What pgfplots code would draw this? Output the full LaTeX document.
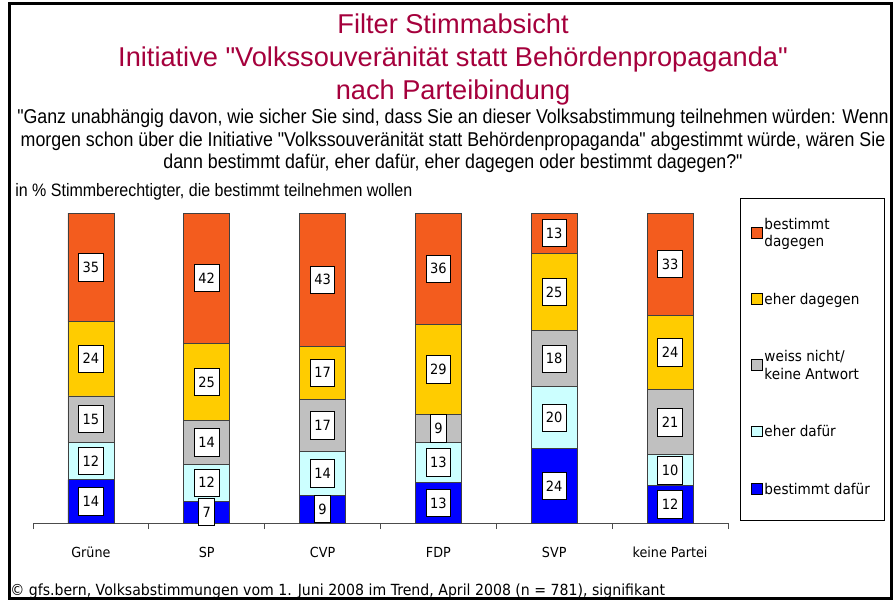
\documentclass[border=0pt]{standalone}
\usepackage{fontspec}
\setmainfont{DejaVu Sans}[FakeStretch=0.92]
\newfontfamily\titlefont{Liberation Sans}
\newfontfamily\qfont{Liberation Sans}[FakeStretch=0.89]
\usepackage{pgfplots}
\pgfplotsset{compat=1.18}
\definecolor{tcol}{RGB}{165,0,60}
\definecolor{cBlue}{RGB}{0,0,255}
\definecolor{cCyan}{RGB}{204,255,255}
\definecolor{cGrey}{RGB}{192,192,192}
\definecolor{cGold}{RGB}{255,204,0}
\definecolor{cOrange}{RGB}{243,92,30}
\begin{document}
\begin{tikzpicture}
\useasboundingbox (0pt,0pt) rectangle (669.75pt,-450.75pt);
\draw[line width=2.25pt] (6.75pt,-2.25pt) rectangle (668.25pt,-448.5pt);
% titles
\node[anchor=base,inner sep=0pt,text=tcol,font=\titlefont\fontsize{20.4}{24}\selectfont] at (339.75pt,-24.75pt) {Filter Stimmabsicht};
\node[anchor=base,inner sep=0pt,text=tcol,font=\titlefont\fontsize{20.4}{24}\selectfont] at (339.75pt,-49.5pt) {Initiative "Volkssouveränität statt Behördenpropaganda"};
\node[anchor=base,inner sep=0pt,text=tcol,font=\titlefont\fontsize{20.4}{24}\selectfont] at (339.75pt,-74.25pt) {nach Parteibindung};
\node[anchor=base,inner sep=0pt,font=\qfont\fontsize{15}{18}\selectfont] at (339.75pt,-92.25pt) {"Ganz unabhängig davon, wie sicher Sie sind, dass Sie an dieser Volksabstimmung teilnehmen würden: Wenn};
\node[anchor=base,inner sep=0pt,font=\qfont\fontsize{15}{18}\selectfont] at (339.75pt,-109.5pt) {morgen schon über die Initiative "Volkssouveränität statt Behördenpropaganda" abgestimmt würde, wären Sie};
\node[anchor=base,inner sep=0pt,font=\qfont\fontsize{15}{18}\selectfont] at (339.75pt,-126.25pt) {dann bestimmt dafür, eher dafür, eher dagegen oder bestimmt dagegen?"};
\node[anchor=base west,inner sep=0pt,font=\qfont\fontsize{13.5}{16}\selectfont] at (11.25pt,-147.5pt) {in \% Stimmberechtigter, die bestimmt teilnehmen wollen};
\node[anchor=west,inner sep=0pt,font=\fontsize{11.5}{13}\selectfont] at (7.5pt,-443.25pt) {© gfs.bern, Volksabstimmungen vom 1. Juni 2008 im Trend, April 2008 (n = 781), signifikant};
% legend frame
\draw[line width=0.75pt] (555pt,-148.5pt) rectangle (663pt,-390pt);
\begin{axis}[
  at={(24.75pt,-392.25pt)}, anchor=south west,
  scale only axis, width=521.25pt, height=232.5pt,
  xmin=-0.5, xmax=5.5, ymin=0, ymax=100,
  ybar stacked, bar width=34.5pt,
  axis x line*=bottom, hide y axis,
  axis line style={black!70, line width=0.75pt},
  xtick={0,1,2,3,4,5},
  xticklabels={Grüne,SP,CVP,FDP,SVP,keine Partei},
  minor xtick={-0.5,0.5,1.5,2.5,3.5,4.5,5.5},
  xtick align=outside, major tick length=0pt, minor tick length=4.5pt,
  minor x tick style={black!70, line width=0.75pt},
  xticklabel style={font=\fontsize{10.4}{12}\selectfont, anchor=north},
  xticklabel shift=14.5pt,
  clip=false,
  every axis plot/.append style={draw=black!75, line width=0.6pt},
  visualization depends on={rawy \as \rawy},
  nodes near coords={\pgfmathprintnumber[assume math mode=true]{\rawy}},
  nodes near coords align={center},
  every node near coord/.append style={anchor=center, fill=white, draw=black, line width=0.6pt, text=black, font=\fontsize{10.6}{12}\selectfont, inner xsep=3pt, minimum height=20.5pt},
  legend image code/.code={\draw[#1,draw=black,line width=0.6pt] (0pt,-3.6pt) rectangle (8pt,4.4pt);},
  reverse legend,
  legend style={draw=none, fill=none, at={(1.027,1.0)}, anchor=north west, row sep=30.25pt, font=\fontsize{11.1}{13}\selectfont, nodes={align=left, inner sep=1.5pt}},
  legend cell align=left,
]
\addplot[fill=cBlue] coordinates {(0,14) (1,7) (2,9) (3,13) (4,24) (5,12)};
\addlegendentry{bestimmt dafür}
\addplot[fill=cCyan] coordinates {(0,12) (1,12) (2,14) (3,13) (4,20) (5,10)};
\addlegendentry{eher dafür}
\addplot[fill=cGrey] coordinates {(0,15) (1,14) (2,17) (3,9) (4,18) (5,21)};
\addlegendentry{weiss nicht/\\keine Antwort}
\addplot[fill=cGold] coordinates {(0,24) (1,25) (2,17) (3,29) (4,25) (5,24)};
\addlegendentry{eher dagegen}
\addplot[fill=cOrange] coordinates {(0,35) (1,42) (2,43) (3,36) (4,13) (5,33)};
\addlegendentry{bestimmt\\dagegen}
\end{axis}
\end{tikzpicture}
\end{document}
